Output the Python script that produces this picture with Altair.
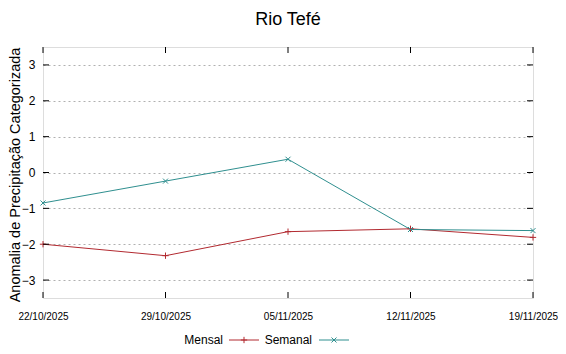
import altair as alt
import pandas as pd

dates = ["22/10/2025", "29/10/2025", "05/11/2025", "12/11/2025", "19/11/2025"]
mensal = [-2.0, -2.32, -1.65, -1.57, -1.81]
semanal = [-0.85, -0.24, 0.37, -1.59, -1.62]
y_ticks = [-3, -2, -1, 0, 1, 2, 3]
series_names = ["Mensal", "Semanal"]
colors = ["#b22a30", "#2f8f8f"]

W, H = 490, 251

df = pd.DataFrame(
    [{"date": d, "value": v, "serie": "Mensal"} for d, v in zip(dates, mensal)]
    + [{"date": d, "value": v, "serie": "Semanal"} for d, v in zip(dates, semanal)]
)
ticks_df = pd.DataFrame({"v": y_ticks})
dates_df = pd.DataFrame({"date": dates})

x_scale = alt.Scale(type="point", padding=0, domain=dates)
x_enc = alt.X(
    "date:O", sort=dates, scale=x_scale,
    axis=alt.Axis(title=None, labelAngle=0, tickSize=0, domain=False, grid=False,
                  labelFont="Liberation Sans", labelFontSize=10,
                  labelColor="#000", labelPadding=13, labelFlush=False),
)
x_plain = alt.X("date:O", sort=dates, scale=x_scale)
y_scale = alt.Scale(domain=[-3.5, 3.5], nice=False)
y_enc = alt.Y(
    "value:Q", scale=y_scale,
    axis=alt.Axis(values=y_ticks, title="Anomalia de Precipitação Categorizada",
                  tickSize=0, domain=False, grid=True, gridDash=[2, 3],
                  gridColor="#b0b0b0", gridWidth=1, labelFontSize=12,
                  labelFont="Liberation Sans", labelColor="#000", labelPadding=8,
                  titleFont="Liberation Sans", titleFontSize=14.5,
                  titleFontWeight="normal", titleColor="#000",
                  titleX=-21, titleY=H / 2 + 2, titleAngle=270,
                  titleAlign="center", titleBaseline="bottom"),
)

color_scale = alt.Scale(domain=series_names, range=colors)

lines = alt.Chart(df).mark_line(strokeWidth=1).encode(
    x=x_enc, y=y_enc,
    color=alt.Color("serie:N", scale=color_scale, legend=None),
)

plus_path = "M-1,0L1,0M0,-1L0,1"
x_path = "M-1,-1L1,1M-1,1L1,-1"

pts_m = alt.Chart(df[df.serie == "Mensal"]).mark_point(
    shape=plus_path, filled=False, size=40, strokeWidth=1, color=colors[0], opacity=1
).encode(x=x_plain, y=alt.Y("value:Q", scale=y_scale))
pts_s = alt.Chart(df[df.serie == "Semanal"]).mark_point(
    shape=x_path, filled=False, size=25, strokeWidth=1, color=colors[1], opacity=1
).encode(x=x_plain, y=alt.Y("value:Q", scale=y_scale))

# inward tick marks (gnuplot style)
xt_bot = alt.Chart(dates_df).mark_rule(color="#000", strokeWidth=1).encode(
    x=x_plain, y=alt.value(H), y2=alt.value(H - 6))
xt_top = alt.Chart(dates_df).mark_rule(color="#000", strokeWidth=1).encode(
    x=x_plain, y=alt.value(0), y2=alt.value(6))
yt_left = alt.Chart(ticks_df).mark_rule(color="#000", strokeWidth=1).encode(
    y=alt.Y("v:Q", scale=y_scale), x=alt.value(0), x2=alt.value(6))
yt_right = alt.Chart(ticks_df).mark_rule(color="#000", strokeWidth=1).encode(
    y=alt.Y("v:Q", scale=y_scale), x=alt.value(W), x2=alt.value(W - 6))

# manual legend below (label, then sample line with marker)
leg_y = 293
leg_text = alt.Chart(pd.DataFrame({"t": ["Mensal"]})).mark_text(
    align="right", baseline="middle", fontSize=12, font="Liberation Sans", color="#000"
).encode(text="t:N", x=alt.value(180), y=alt.value(leg_y))
leg_text2 = alt.Chart(pd.DataFrame({"t": ["Semanal"]})).mark_text(
    align="right", baseline="middle", fontSize=12, font="Liberation Sans", color="#000"
).encode(text="t:N", x=alt.value(269), y=alt.value(leg_y))
leg_line1 = alt.Chart(pd.DataFrame({"t": ["Mensal"]})).mark_rule(
    color=colors[0], strokeWidth=1).encode(x=alt.value(186), x2=alt.value(216), y=alt.value(leg_y))
leg_line2 = alt.Chart(pd.DataFrame({"t": ["Semanal"]})).mark_rule(
    color=colors[1], strokeWidth=1).encode(x=alt.value(276), x2=alt.value(306), y=alt.value(leg_y))
leg_pt1 = alt.Chart(pd.DataFrame({"t": ["Mensal"]})).mark_point(
    shape=plus_path, filled=False, size=40, strokeWidth=1, color=colors[0], opacity=1
).encode(x=alt.value(201), y=alt.value(leg_y))
leg_pt2 = alt.Chart(pd.DataFrame({"t": ["Semanal"]})).mark_point(
    shape=x_path, filled=False, size=25, strokeWidth=1, color=colors[1], opacity=1
).encode(x=alt.value(291), y=alt.value(leg_y))

chart = alt.layer(
    lines, pts_m, pts_s, xt_bot, xt_top, yt_left, yt_right,
    leg_text, leg_text2, leg_line1, leg_line2, leg_pt1, leg_pt2,
).properties(
    width=W, height=H,
    title=alt.TitleParams("Rio Tefé", fontSize=18, font="Liberation Sans",
                          fontWeight="normal", color="#000", anchor="middle", offset=18),
    autosize=alt.AutoSizeParams(type="none"),
    padding={"left": 35, "top": 39, "right": 25, "bottom": 55},
).configure_view(stroke="#000", strokeWidth=1).configure(background="white")

chart.save("out.html", embed_options={"renderer": "svg", "actions": False})
